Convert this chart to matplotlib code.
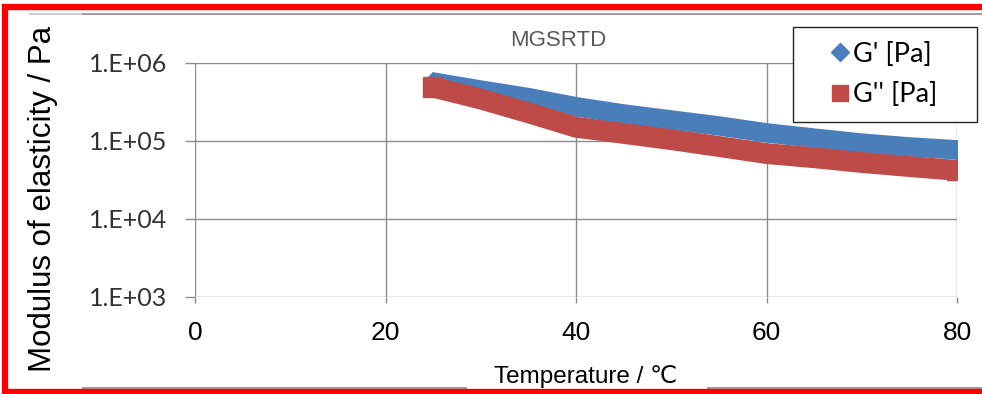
import matplotlib
matplotlib.use("Agg")
import matplotlib.pyplot as plt
from matplotlib.lines import Line2D

# data
temps = [25, 30, 35, 40, 45, 50, 55, 60, 65, 70, 75, 80]
g_storage = [5.7e5, 4.5e5, 3.6e5, 2.75e5, 2.22e5, 1.86e5, 1.56e5, 1.27e5, 1.09e5, 9.4e4, 8.4e4, 7.7e4]
g_loss = [4.9e5, 3.45e5, 2.3e5, 1.5e5, 1.25e5, 1.04e5, 8.5e4, 6.9e4, 6.1e4, 5.3e4, 4.7e4, 4.2e4]
series_labels = ["G' [Pa]", "G'' [Pa]"]
x_ticks = [0, 20, 40, 60, 80]
y_ticks = [1e3, 1e4, 1e5, 1e6]
y_tick_labels = ["1.E+03", "1.E+04", "1.E+05", "1.E+06"]

BLUE = "#4A7EBB"
RED = "#BE4B48"
GRID = "#8C8C8C"
W, H = 982, 394


def fx(px):
    return px / W


def fy(py):
    return 1 - py / H


fig = plt.figure(figsize=(9.82, 3.94), dpi=100)
ax = fig.add_axes([fx(195), fy(297), fx(957) - fx(195), fy(63) - fy(297)])

# the densely packed markers of the original form a solid band:
# draw a thick line through the points, with end markers
ax.plot(temps, g_storage, color=BLUE, lw=14, solid_capstyle="butt",
        solid_joinstyle="round", marker="D", ms=10, markevery=[0, -1],
        mec=BLUE, mfc=BLUE, zorder=3)
ax.plot(temps, g_loss, color=RED, lw=15, solid_capstyle="butt",
        solid_joinstyle="round", marker="s", ms=14.5, markevery=[0, -1],
        mec=RED, mfc=RED, zorder=4)

ax.set_yscale("log")
ax.set_xlim(0, 80)
ax.set_ylim(1e3, 1e6)
ax.minorticks_off()
ax.set_xticks(x_ticks)
ax.set_yticks(y_ticks, y_tick_labels)
ax.grid(True, color=GRID, lw=1.0)
for sp in ax.spines.values():
    sp.set_visible(False)
ax.tick_params(axis="x", length=4.5, color=GRID, width=1.0, pad=13,
               labelsize=19, labelfontfamily="Liberation Sans")
ax.tick_params(axis="y", length=7, color=GRID, width=1.0, pad=13,
               labelsize=18, labelcolor="#333333", labelfontfamily="Lato")

fig.text(fx(558), fy(40), "MGSRTD", ha="center", va="center", fontsize=16,
         color="#595959", family="Liberation Sans")
fig.text(fx(586), fy(383), "Temperature / \u2103", ha="center", va="baseline",
         fontsize=17.5, family=["Liberation Sans", "DejaVu Sans"])
fig.text(fx(43), fy(199), "Modulus of elasticity / Pa", ha="center", va="center",
         rotation=90, fontsize=22.5, family="Liberation Sans")

handles = [
    Line2D([], [], ls="none", marker="D", ms=9, color=BLUE),
    Line2D([], [], ls="none", marker="s", ms=12, color=RED),
]
leg = fig.legend(handles, series_labels, loc="upper left",
                 bbox_to_anchor=(fx(793), fy(118), fx(977) - fx(793), fy(27) - fy(118)),
                 bbox_transform=fig.transFigure, mode="expand",
                 prop={"family": "Lato", "size": 19.5}, frameon=True, fancybox=False,
                 framealpha=1, edgecolor="#222222", borderpad=0.55,
                 labelspacing=0.57, handlelength=2.4, handletextpad=-0.75,
                 borderaxespad=0)
leg.get_frame().set_linewidth(1.0)

# screenshot frame: grey rules and red border
fig.add_artist(Line2D([fx(30), fx(83)], [fy(14), fy(14)], color="#D0D0D0", lw=1.5))
fig.add_artist(Line2D([fx(83), fx(982)], [fy(14), fy(14)], color="#A0A0A0", lw=1.5))
fig.add_artist(Line2D([fx(83), fx(466)], [fy(388), fy(388)], color="#A0A0A0", lw=1.5))
fig.add_artist(Line2D([fx(708), fx(982)], [fy(388), fy(388)], color="#A0A0A0", lw=1.5))
fig.add_artist(Line2D([fx(982), fx(4.5), fx(4.5), fx(982)],
                      [fy(7), fy(7), fy(392), fy(392)], color="#FF0000", lw=4.6,
                      solid_joinstyle="miter"))

fig.savefig("out.png", dpi=100)
